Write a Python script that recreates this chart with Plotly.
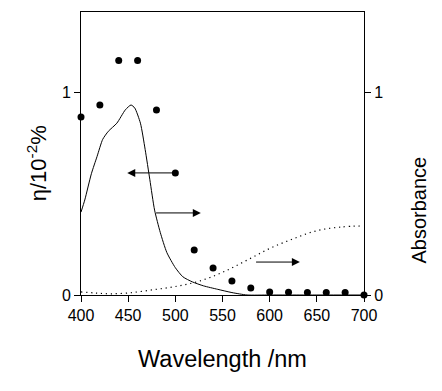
import plotly.graph_objects as go

# Photocurrent efficiency data (dots), left axis
eff_wl = [400, 420, 440, 460, 480, 500, 520, 540, 560, 580, 600, 620, 640, 660, 680, 700]
eff_val = [0.88, 0.94, 1.16, 1.16, 0.915, 0.604, 0.223, 0.134, 0.069, 0.035, 0.015, 0.013, 0.012, 0.012, 0.012, 0.0]

# Absorbance (solid), right axis
abs_wl = [400, 404, 411, 417, 423, 429, 438, 447, 453, 457, 463, 468, 473, 478, 484, 491,
          500, 508, 518, 530, 545, 560, 576, 600, 650, 700]
abs_val = [0.41, 0.47, 0.60, 0.685, 0.77, 0.81, 0.85, 0.916, 0.94, 0.925, 0.85, 0.72, 0.57,
           0.42, 0.31, 0.21, 0.135, 0.09, 0.065, 0.045, 0.028, 0.012, 0.0, 0.0, 0.0, 0.0]

# Second absorbance (dotted), right axis
abs2_wl = [400, 415, 430, 450, 475, 500, 525, 550, 575, 600, 625, 650, 675, 700]
abs2_val = [0.015, 0.01, 0.006, 0.01, 0.025, 0.042, 0.068, 0.112, 0.17, 0.23, 0.278, 0.318, 0.336, 0.342]

# Arrows: (tail_x, tail_y, head_x, head_y) in data units
arrows = [
    (500, 0.604, 449, 0.604),
    (478, 0.406, 527, 0.406),
    (584, 0.163, 632, 0.163),
]

x_ticks = [400, 450, 500, 550, 600, 650, 700]
y_ticks = [0, 1]

FONT = "Liberation Sans, Arial, sans-serif"

fig = go.Figure()
fig.add_trace(go.Scatter(x=abs_wl, y=abs_val, mode="lines", yaxis="y2",
                         line=dict(color="black", width=1, shape="spline", smoothing=0.6),
                         showlegend=False))
fig.add_trace(go.Scatter(x=abs2_wl, y=abs2_val, mode="lines", yaxis="y2",
                         line=dict(color="black", width=1.2, dash="1.2px,3.8px", shape="spline"),
                         showlegend=False))
fig.add_trace(go.Scatter(x=eff_wl, y=eff_val, mode="markers",
                         marker=dict(color="black", size=7),
                         cliponaxis=False, showlegend=False))

for tx, ty, hx, hy in arrows:
    fig.add_annotation(x=hx, y=hy, ax=tx, ay=ty, xref="x", yref="y", axref="x", ayref="y",
                       text="", showarrow=True, arrowhead=2, arrowsize=1.6, arrowwidth=1,
                       arrowcolor="black")

fig.add_annotation(text="η/10<sup>-2</sup>%", xref="paper", yref="paper", x=-0.155, y=0.466,
                   xanchor="center", yanchor="middle", textangle=-90, showarrow=False,
                   font=dict(family=FONT, size=22, color="black"))
fig.add_annotation(text="Absorbance", xref="paper", yref="paper", x=1.196, y=0.30,
                   xanchor="center", yanchor="middle", textangle=-90, showarrow=False,
                   font=dict(family=FONT, size=20, color="black"))
fig.add_annotation(text="Wavelength /nm", xref="paper", yref="paper", x=0.5, y=-0.226,
                   xanchor="center", yanchor="middle", showarrow=False,
                   font=dict(family=FONT, size=23.5, color="black"))

fig.update_layout(
    width=442, height=391,
    margin=dict(l=81, r=78, t=12, b=96),
    paper_bgcolor="white", plot_bgcolor="white",
    font=dict(family=FONT, size=16, color="black"),
    xaxis=dict(range=[400, 700], tickvals=x_ticks, showgrid=False, zeroline=False,
               showline=True, linecolor="black", linewidth=1, mirror=True,
               ticks="outside", ticklen=6, tickcolor="black"),
    yaxis=dict(range=[0, 1.4], tickvals=y_ticks, showgrid=False, zeroline=False,
               showline=True, linecolor="black", linewidth=1,
               ticks="outside", ticklen=6, tickcolor="black"),
    yaxis2=dict(range=[0, 1.4], tickvals=y_ticks, overlaying="y", side="right",
                showgrid=False, zeroline=False, showline=True, linecolor="black", linewidth=1,
                ticks="outside", ticklen=6, tickcolor="black"),
)

fig.write_html("out.html", config={"displayModeBar": False},
               post_script="document.body.style.margin='0';document.body.style.overflow='hidden';")
